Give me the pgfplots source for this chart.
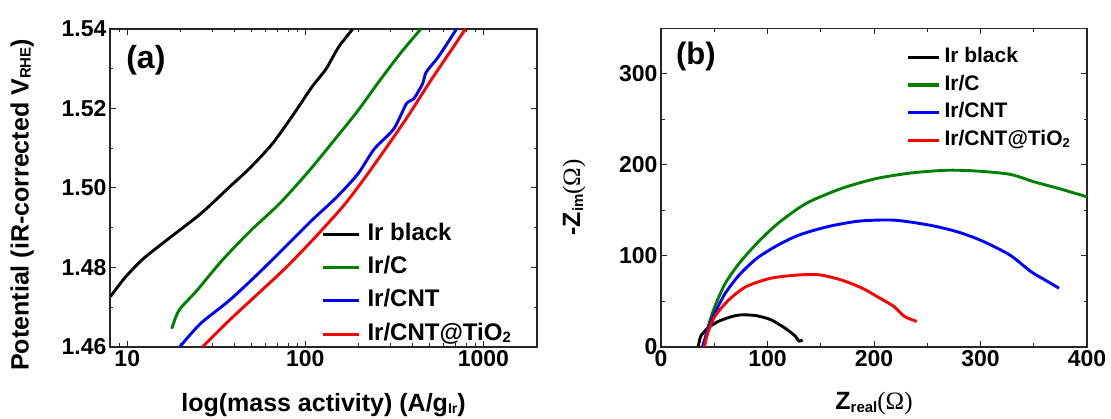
\documentclass[border=0pt]{standalone}
\usepackage{pgfplots}
\pgfplotsset{compat=1.18}
\usepackage{fontspec}
\setmainfont{Liberation Sans}
\newfontfamily\omegafont{Liberation Serif}
\definecolor{cgreen}{RGB}{0,128,0}
\definecolor{cblue}{RGB}{0,0,255}
\definecolor{cred}{RGB}{255,0,0}
\begin{document}
\begin{tikzpicture}
\useasboundingbox (0pt,0pt) rectangle (1111pt,419pt);
\pgfplotsset{
  myaxis/.style={
    scale only axis, anchor=south west,
    axis line style={black!85, line width=1.2pt},
    tick align=inside, tick pos=both,
    major tick length=6pt, minor tick length=3.5pt,
    every tick/.append style={black!85, line width=1pt},
    /pgf/number format/assume math mode=true,
    ticklabel style={font=\bfseries\fontsize{23}{23}\selectfont},
    label style={font=\bfseries\fontsize{25}{25}\selectfont},
    legend cell align=left,
    every axis plot/.append style={line width=2.9pt, line join=round, smooth, tension=0.45},
  }
}
% ---------------- panel (a) ----------------
\begin{axis}[myaxis, at={(110pt,72pt)}, width=427pt, height=318pt,
  xmode=log, xmin=8, xmax=2000, ymin=1.46, ymax=1.54,
  xtick={10,100,1000}, xticklabels={10,100,1000},
  minor xtick={8,9,20,30,40,50,60,70,80,90,200,300,400,500,600,700,800,900,2000},
  ytick={1.46,1.48,1.50,1.52,1.54},
  yticklabels={1.46,1.48,1.50,1.52,1.54},
  minor ytick={1.47,1.49,1.51,1.53},
  xlabel={log(mass activity) (A/g\raisebox{-2pt}{\fontsize{14}{14}\selectfont Ir})},
  ylabel={Potential (iR-corrected V\raisebox{-2pt}{\fontsize{15}{15}\selectfont RHE})},
  xlabel style={at={(axis description cs:0.5,-0.182)}, anchor=center},
  ylabel style={at={(axis description cs:-0.206,0.447)}, anchor=center, rotate=0},
  legend style={at={(axis description cs:0.495,0.389)}, anchor=north west,
    draw=none, fill=none, inner sep=0pt, outer sep=0pt,
    font=\bfseries\fontsize{24}{24}\selectfont,
    nodes={inner sep=0pt, outer sep=0pt, text height=17pt, text depth=5pt},
    row sep=11.3pt,
    /tikz/every odd column/.append style={column sep=7pt}},
  legend image code/.code={\draw[#1, line width=3.2pt, sharp plot] (0pt,0pt) -- (36pt,0pt);},
]
\addplot[black] coordinates {
(8.05,1.4727) (9.77,1.4776) (12.3,1.4822) (17.0,1.4872) (25.8,1.4935)
(37.4,1.5002) (49.3,1.5052) (65.2,1.5111) (86.0,1.5186) (108.4,1.5253)
(130.5,1.5299) (153.5,1.5354) (184.6,1.5400)};
\addlegendentry{Ir black}
\addplot[cgreen] coordinates {
(17.8,1.4646) (19.5,1.4692) (24.6,1.4742) (34.1,1.4818) (49.4,1.4893)
(71.4,1.4960) (103.5,1.5040) (150.0,1.5128) (197.8,1.5195) (261.2,1.5270)
(345,1.5341) (445,1.5400)};
\addlegendentry{Ir/C}
\addplot[cblue] coordinates {
(19.7,1.4600) (25.8,1.4659) (37.4,1.4717) (54.2,1.4784) (78.4,1.4855)
(108.4,1.4918) (150,1.4977) (197.8,1.5036) (243.7,1.5098) (314,1.5149)
(369.6,1.5212) (405.6,1.5224) (455,1.5262) (476.6,1.5291) (548,1.5325)
(615,1.5358) (706,1.5400)};
\addlegendentry{Ir/CNT}
\addplot[cred] coordinates {
(26.4,1.4600) (37.4,1.4667) (54.2,1.4734) (78.4,1.4801) (113.5,1.4876)
(164.4,1.4956) (217,1.5027) (286.5,1.5103) (378.5,1.5182) (499,1.5266)
(629,1.5333) (793,1.5400)};
\addlegendentry{Ir/CNT@TiO\raisebox{-2pt}{\fontsize{15}{15}\selectfont 2}}
\node[font=\bfseries\fontsize{32}{32}\selectfont] at (axis description cs:0.084,0.903) {(a)};
\end{axis}
% ---------------- panel (b) ----------------
\begin{axis}[myaxis, at={(661pt,72pt)}, width=426pt, height=318.5pt,
  xmin=0, xmax=400, ymin=0, ymax=350,
  xtick={0,100,200,300,400}, minor xtick={50,150,250,350},
  ytick={0,100,200,300}, minor ytick={50,150,250},
  xlabel={Z\raisebox{-3pt}{\fontsize{15}{15}\selectfont real}{\omegafont\mdseries(Ω)}},
  ylabel={-Z\raisebox{-3pt}{\fontsize{15}{15}\selectfont im}{\omegafont\mdseries(Ω)}},
  xlabel style={at={(axis description cs:0.5,-0.176)}, anchor=center},
  ylabel style={at={(axis description cs:-0.204,0.47)}, anchor=center, rotate=0},
  legend style={at={(axis description cs:0.577,0.940)}, anchor=north west,
    draw=none, fill=none, inner sep=0pt, outer sep=0pt,
    font=\bfseries\fontsize{21}{21}\selectfont,
    nodes={inner sep=0pt, outer sep=0pt, text height=15pt, text depth=4.5pt},
    row sep=8.1pt,
    /tikz/every odd column/.append style={column sep=3.5pt}},
  legend image code/.code={\draw[#1, line width=3.2pt, sharp plot] (0pt,0pt) -- (31pt,0pt);},
]
\addplot[black] coordinates {
(35,0.5) (37.3,11.7) (43.9,20.8) (53.8,28.1) (67,33.6) (76.8,35.4) (90,34.3)
(103.2,29.9) (116.4,20.8) (126.3,11.7) (129.6,6.2) (132.9,8.0)};
\addlegendentry{Ir black}
\addplot[cgreen] coordinates {
(40.6,0) (43.9,20.8) (50.5,44.5) (60.4,70.1) (73.5,92) (90,113.9) (109.8,135.8)
(136.2,157.7) (169.2,174.1) (202.2,185.1) (235.2,191.3) (268.1,194.2)
(294.5,193.5) (327.5,189.8) (350.6,181.4) (373.7,174.1) (400,165)};
\addlegendentry{Ir/C}
\addplot[cblue] coordinates {
(38.9,0) (43.9,19) (50.5,37.2) (60.4,59.1) (73.5,79.2) (90,97.5) (109.8,112)
(129.6,123) (156,132.1) (185.7,138.3) (218.7,139.4) (251.6,134) (278,126.7)
(301.1,116.8) (327.5,101.1) (347.3,82.9) (360.5,73.7) (373.7,64.6)};
\addlegendentry{Ir/CNT}
\addplot[cred] coordinates {
(40.6,0) (43.9,15.3) (50.5,33.6) (63.7,51.8) (80.1,66.4) (103.2,75.6)
(129.6,79.2) (149.4,79.2) (169.2,73.7) (189,64.6) (205.5,53.7) (218.7,44.5)
(228.6,33.6) (240.1,28.1)};
\addlegendentry{Ir/CNT@TiO\raisebox{-2pt}{\fontsize{13}{13}\selectfont 2}}
\node[font=\bfseries\fontsize{31}{31}\selectfont] at (axis description cs:0.082,0.912) {(b)};
\end{axis}
\end{tikzpicture}
\end{document}
